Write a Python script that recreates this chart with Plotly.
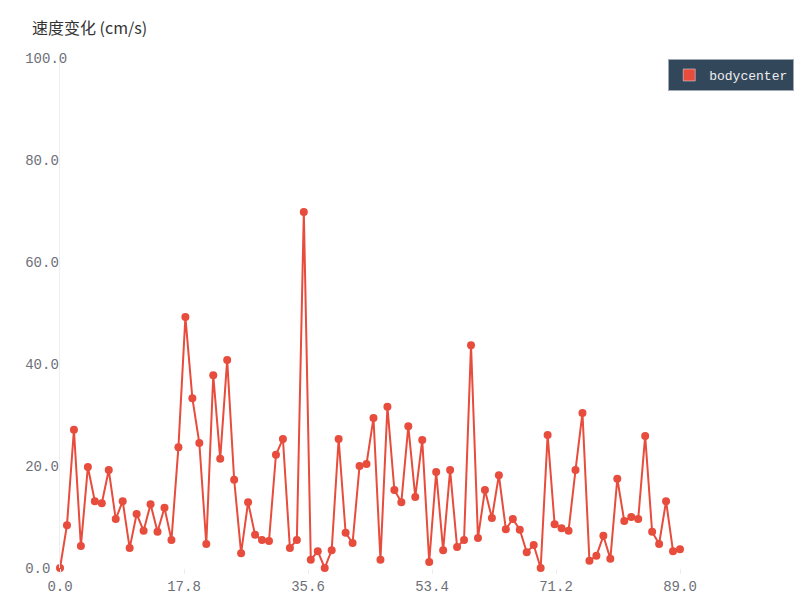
import plotly.graph_objects as go

series_name = "bodycenter"
x_values = list(range(90))
speed = [0.0, 8.4, 27.1, 4.3, 19.8, 13.1, 12.7, 19.2, 9.6, 13.1,
         3.9, 10.6, 7.3, 12.5, 7.1, 11.8, 5.5, 23.7, 49.2, 33.3,
         24.5, 4.7, 37.8, 21.4, 40.8, 17.3, 2.9, 12.9, 6.5, 5.5,
         5.3, 22.2, 25.3, 3.9, 5.5, 69.8, 1.6, 3.3, 0.0, 3.5,
         25.3, 6.9, 4.9, 20.0, 20.4, 29.4, 1.6, 31.6, 15.3, 12.9,
         27.8, 13.9, 25.1, 1.2, 18.8, 3.5, 19.2, 4.1, 5.5, 43.7,
         5.9, 15.3, 9.8, 18.2, 7.6, 9.6, 7.5, 3.1, 4.5, 0.0,
         26.1, 8.6, 7.8, 7.3, 19.2, 30.4, 1.4, 2.4, 6.3, 1.8,
         17.5, 9.2, 10.0, 9.6, 25.9, 7.1, 4.7, 13.1, 3.3, 3.7]
x_ticks = [0.0, 17.8, 35.6, 53.4, 71.2, 89.0]
y_ticks = [0.0, 20.0, 40.0, 60.0, 80.0, 100.0]
y_title = "速度变化 (cm/s)"

RED = "#e74c3c"
MONO = "Liberation Mono, DejaVu Sans Mono, monospace"

fig = go.Figure()
fig.add_trace(go.Scatter(
    x=x_values, y=speed, mode="lines+markers", name=series_name,
    line=dict(color=RED, width=2), marker=dict(color=RED, size=8),
    cliponaxis=False, showlegend=False,
))
# legend entry (square swatch)
fig.add_trace(go.Bar(x=[None], y=[None], name=series_name, marker_color=RED))

nb = "\u00a0"
y_text = [f"{v:.1f}" for v in y_ticks]
w = max(len(t) for t in y_text)
y_text = [t + nb * (w - len(t)) for t in y_text]

fig.update_layout(
    width=800, height=600,
    margin=dict(l=60, r=120, t=58, b=32, autoexpand=False),
    paper_bgcolor="white", plot_bgcolor="white",
    font=dict(family=MONO, size=14, color="#6e7079"),
    showlegend=True,
    legend=dict(
        x=0.981, y=0.998, xanchor="left", yanchor="top",
        bgcolor="#33475b", bordercolor="#a0a8b4", borderwidth=1,
        font=dict(family=MONO, size=13, color="#eeeeee"),
        itemwidth=30, tracegroupgap=0,
    ),
    xaxis=dict(
        range=[0, 89], tickmode="array", tickvals=x_ticks,
        ticktext=[f"{v:.1f}" for v in x_ticks],
        showgrid=False, zeroline=False, showline=False,
        ticks="outside", ticklen=5, tickcolor="#eeeeee",
    ),
    yaxis=dict(
        range=[0, 100], tickmode="array", tickvals=y_ticks, ticktext=y_text,
        showgrid=False, zeroline=False, showline=True, linecolor="#eeeeee",
        linewidth=1, ticks="", ticklabelstandoff=-11,
    ),
    annotations=[dict(
        text=y_title, xref="paper", yref="paper", x=-0.048, y=1.0,
        xanchor="left", yanchor="bottom", yshift=17, showarrow=False,
        font=dict(family="Noto Sans CJK SC, Liberation Mono", size=16, color="#333333"),
    )],
)

fig.write_html("out.html", post_script="document.body.style.margin='0';",
               config={"displayModeBar": False})
